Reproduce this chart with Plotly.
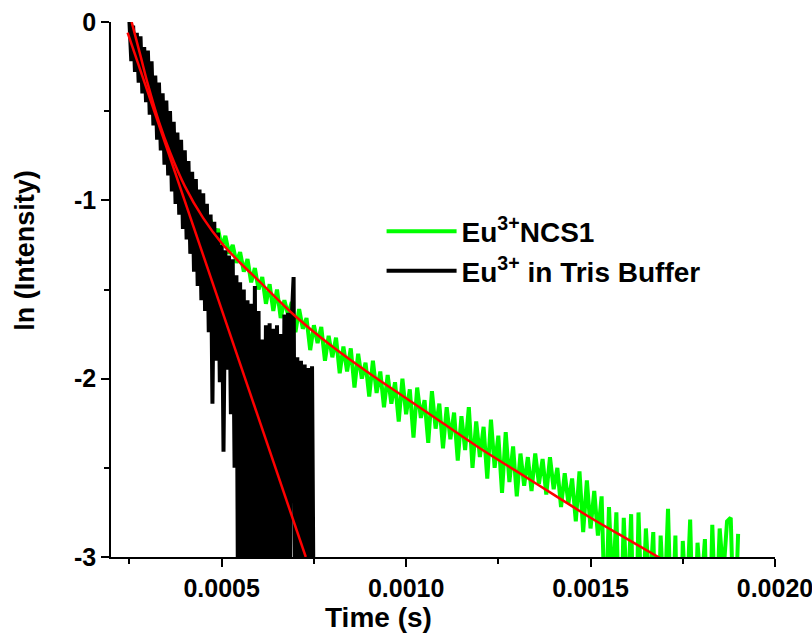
import plotly.graph_objects as go

# ---- Data ----
# Eu3+ in Tris Buffer (black), x = 0.00025 + k*0.000005
tris_x_start = 0.00025
tris_x_step = 0.000005
tris_y = [
    -0.00, -0.22, -0.02, -0.28, -0.06, -0.34, -0.08, -0.40, -0.14, -0.45,
    -0.16, -0.52, -0.22, -0.58, -0.30, -0.66, -0.34, -0.72, -0.40, -0.80,
    -0.44, -0.86, -0.50, -0.95, -0.56, -1.02, -0.62, -1.08, -0.66, -1.16,
    -0.72, -1.22, -0.78, -1.30, -0.84, -1.40, -0.88, -1.48, -0.94, -1.56,
    -0.96, -1.62, -1.02, -1.74, -1.08, -2.14, -1.12, -1.90, -1.18, -2.02,
    -1.25, -2.41, -1.28, -1.95, -1.31, -2.20, -1.33, -2.50, -1.42, -3.60,
    -1.46, -3.30, -1.50, -4.00, -1.56, -3.40, -1.58, -3.80, -1.48, -3.50,
    -1.62, -3.90, -1.78, -3.30, -1.70, -4.20, -1.69, -3.60, -1.72, -3.40,
    -1.70, -3.90, -1.75, -3.50, -1.64, -4.10, -1.63, -3.30, -1.66, -1.43,
    -3.70, -1.88, -3.40, -1.90, -4.00, -1.92, -3.50, -1.94, -3.80, -1.93,
    -3.60,
]
tris_x = [tris_x_start + k * tris_x_step for k in range(len(tris_y))]

# Eu3+NCS1 (green), x = 0.00025 + k*0.00001
ncs_x_start = 0.00025
ncs_x_step = 0.00001
ncs_y = [
    0.02, -0.06, -0.10, -0.22, -0.25, -0.38, -0.40, -0.52, -0.54, -0.64,
    -0.65, -0.75, -0.75, -0.84, -0.84, -0.93, -0.91, -1.00, -0.98, -1.07,
    -1.06, -1.15, -1.11, -1.20, -1.16, -1.26, -1.20, -1.30, -1.25, -1.35,
    -1.29, -1.40, -1.33, -1.46, -1.38, -1.50, -1.43, -1.58, -1.47, -1.62,
    -1.50, -1.66, -1.56, -1.64, -1.57, -1.74, -1.61, -1.72, -1.66, -1.84,
    -1.70, -1.80, -1.71, -1.90, -1.76, -1.88, -1.77, -1.97, -1.82, -1.96,
    -1.83, -2.05, -1.86, -2.00, -1.91, -2.10, -1.90, -2.08, -1.96, -2.16,
    -1.98, -2.14, -2.02, -2.24, -2.00, -2.20, -2.06, -2.33, -2.05, -2.22,
    -2.12, -2.36, -2.07, -2.28, -2.14, -2.39, -2.16, -2.34, -2.19, -2.46,
    -2.21, -2.40, -2.16, -2.50, -2.24, -2.44, -2.27, -2.56, -2.23, -2.50,
    -2.32, -2.64, -2.30, -2.58, -2.38, -2.66, -2.42, -2.60, -2.44, -2.63,
    -2.42, -2.59, -2.45, -2.65, -2.44, -2.62, -2.50, -2.72, -2.53, -2.70,
    -2.56, -2.80, -2.52, -2.86, -2.57, -2.84, -2.63, -2.88, -2.66, -3.40,
    -2.72, -3.20, -2.75, -3.60, -2.78, -3.30, -2.76, -3.80, -2.75, -3.40,
    -2.84, -3.20, -2.86, -3.70, -2.88, -3.30, -2.73, -3.50, -2.88, -3.90,
    -2.91, -3.30, -2.79, -3.60, -2.92, -3.20, -2.90, -3.70, -2.82, -3.40,
    -2.84, -3.10, -2.80, -2.78, -3.50, -2.87,
]
ncs_x = [ncs_x_start + k * ncs_x_step for k in range(len(ncs_y))]

# Fit curves (red)
fit_ncs_x = [0.000256, 0.00028, 0.0003, 0.00033, 0.00036, 0.0004, 0.00045,
             0.0005, 0.00055, 0.0006, 0.0007, 0.0008, 0.0009, 0.001, 0.0011,
             0.0012, 0.0013, 0.0014, 0.0015, 0.0016, 0.0017]
fit_ncs_y = [0.0, -0.19, -0.35, -0.56, -0.73, -0.92, -1.10, -1.24, -1.35,
             -1.45, -1.65, -1.82, -1.97, -2.11, -2.25, -2.39, -2.52, -2.65,
             -2.78, -2.90, -3.02]
fit_tris_x = [0.000245, 0.000728]
fit_tris_y = [-0.06, -3.0]

x_tickvals = [0.0005, 0.0010, 0.0015, 0.0020]
x_ticktext = ["0.0005", "0.0010", "0.0015", "0.0020"]
y_tickvals = [0, -1, -2, -3]
y_ticktext = ["0", "-1", "-2", "-3"]

FONT = "Liberation Sans, Arial, sans-serif"

fig = go.Figure()
fig.add_trace(go.Scatter(x=ncs_x, y=ncs_y, mode="lines",
                         line=dict(color="#00FF00", width=4),
                         legendgroup="a",
                         name="Eu<sup>3+</sup>NCS1"))
fig.add_trace(go.Scatter(x=tris_x, y=tris_y, mode="lines",
                         line=dict(color="#000000", width=4),
                         legendgroup="b",
                         name="Eu<sup>3+</sup> in Tris Buffer"))
fig.add_trace(go.Scatter(x=fit_ncs_x, y=fit_ncs_y, mode="lines",
                         line=dict(color="#FF0000", width=2.5, shape="spline"),
                         showlegend=False))
fig.add_trace(go.Scatter(x=fit_tris_x, y=fit_tris_y, mode="lines",
                         line=dict(color="#FF0000", width=2.5),
                         showlegend=False))

axis_common = dict(showgrid=False, zeroline=False, showline=True,
                   linecolor="black", linewidth=1.5, ticks="outside",
                   ticklen=8, tickwidth=1.5, tickcolor="black",
                   ticklabeloverflow="allow", automargin=False,
                   tickfont=dict(size=25, family=FONT, weight="bold"))

fig.update_layout(
    width=812, height=639,
    margin=dict(l=111, r=37, t=22, b=82),
    plot_bgcolor="white", paper_bgcolor="white",
    font=dict(family=FONT, color="black"),
    legend=dict(x=0.4075, y=0.655, xanchor="left", yanchor="top",
                bgcolor="rgba(0,0,0,0)",
                font=dict(size=28, family=FONT, weight="bold"),
                itemwidth=70, tracegroupgap=0),
    xaxis=dict(range=[0.0002, 0.002], tickvals=x_tickvals, ticktext=x_ticktext,
               minor=dict(tickvals=[0.00025, 0.00075, 0.00125, 0.00175],
                          ticks="outside", ticklen=5, tickwidth=1.5,
                          tickcolor="black"),
               **axis_common),
    yaxis=dict(range=[-3, 0], tickvals=y_tickvals, ticktext=y_ticktext,
               minor=dict(tickvals=[-0.5, -1.5, -2.5], ticks="outside",
                          ticklen=5, tickwidth=1.5, tickcolor="black"),
               **axis_common),
    annotations=[
        dict(text="Time (s)", xref="paper", yref="paper", x=0.403, y=-0.114,
             xanchor="center", yanchor="middle", showarrow=False,
             font=dict(size=28, family=FONT, weight="bold")),
        dict(text="ln (Intensity)", xref="paper", yref="paper", x=-0.129,
             y=0.573, xanchor="center", yanchor="middle", showarrow=False,
             textangle=-90, font=dict(size=27, family=FONT, weight="bold")),
    ],
)

fig.write_html(
    "out.html",
    config={"displayModeBar": False},
    post_script=("document.documentElement.style.margin='0';"
                 "document.body.style.margin='0';"
                 "document.documentElement.style.overflow='hidden';"
                 "document.body.style.overflow='hidden';"),
)
